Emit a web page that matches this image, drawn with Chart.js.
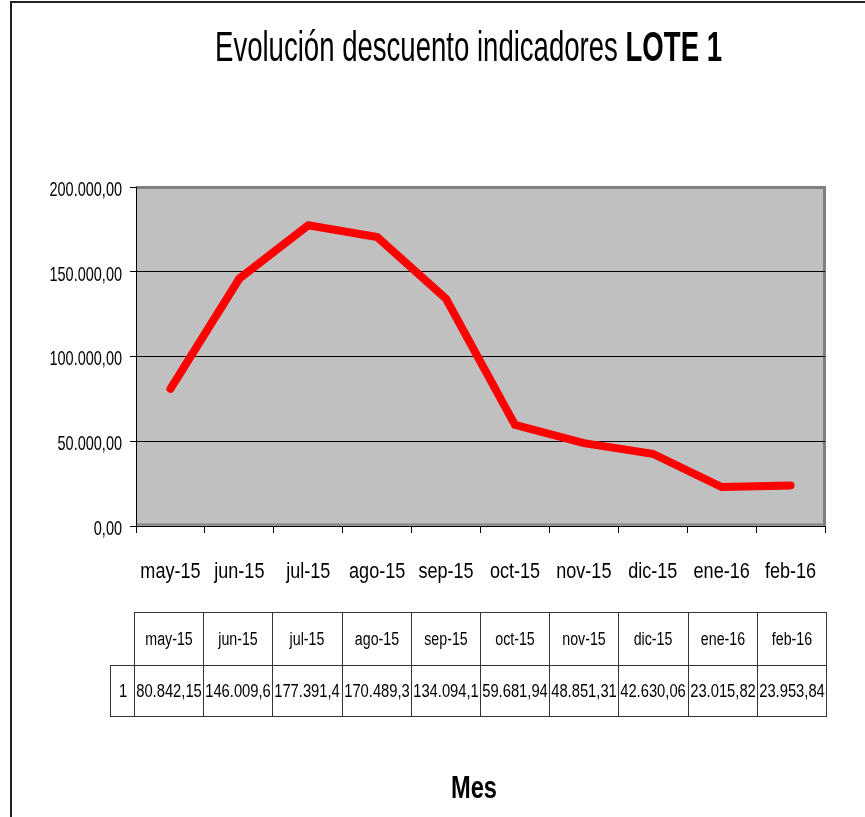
<!DOCTYPE html>
<html><head><meta charset="utf-8">
<script src="https://cdn.jsdelivr.net/npm/chart.js@4"></script>
<style>
html,body{margin:0;padding:0;background:#fff;}
body{width:865px;height:817px;position:relative;overflow:hidden;font-family:'Liberation Sans',Arial,sans-serif;color:#000;}
#c{position:absolute;left:0;top:0;}
.frameL{position:absolute;left:10px;top:1px;width:2px;height:816px;background:#222;}
.frameT{position:absolute;left:10px;top:1px;width:855px;height:2px;background:#222;}
.fit{position:absolute;white-space:nowrap;transform-origin:0 0;line-height:1;}
#title{left:215px;top:26px;font-size:42px;}
#xt{font-size:32px;font-weight:bold;top:771px;}
table{position:absolute;left:110px;top:612px;border-collapse:collapse;table-layout:fixed;}
td{border:1px solid #333;padding:0;overflow:hidden;white-space:nowrap;position:relative;}
td.blank{border:none;}
td span{position:absolute;left:50%;top:50%;line-height:1;transform:translate(-50%,-50%) scaleX(0.79);}
tr.h td span{font-size:18px;}
tr.d td span{font-size:18px;transform:translate(-50%,-50%) scaleX(0.82);}
</style></head>
<body>
<div class="frameL"></div><div class="frameT"></div>
<canvas id="c" width="865" height="817"></canvas>
<div id="title" class="fit">Evolución descuento indicadores <b>LOTE 1</b></div>
<div id="xt" class="fit">Mes</div>
<table id="tbl"></table>
<script>
const FONT = "'Liberation Sans',Arial,sans-serif";
const months = ["may-15","jun-15","jul-15","ago-15","sep-15","oct-15","nov-15","dic-15","ene-16","feb-16"];
const values = [80842.15,146009.6,177391.4,170489.3,134094.1,59681.94,48851.31,42630.06,23015.82,23953.84];
const seriesName = "1";
const yTicks = [0,50000,100000,150000,200000];

function fmt(v){
  const s = Number(v).toFixed(2);
  let [i,d] = s.split('.');
  i = i.replace(/\B(?=(\d{3})+(?!\d))/g,'.');
  return i + ',' + d;
}

// data table
const tbl = document.getElementById('tbl');
let html = '<colgroup><col style="width:24px">' + months.map(()=>'<col style="width:69.2px">').join('') + '</colgroup>';
html += '<tr class="h" style="height:53px"><td class="blank"></td>' + months.map(m=>'<td><span>'+m+'</span></td>').join('') + '</tr>';
html += '<tr class="d" style="height:51px"><td><span>'+seriesName+'</span></td>' + values.map(v=>'<td><span>'+fmt(v).slice(0,9)+'</span></td>').join('') + '</tr>';
tbl.innerHTML = html;
tbl.style.width = (24 + 69.2*months.length) + 'px';

function fit(id, target, cx){
  const el = document.getElementById(id);
  const w = el.getBoundingClientRect().width;
  const s = target / w;
  if (cx !== undefined) el.style.left = (cx - target/2) + 'px';
  el.style.transform = 'scaleX(' + s + ')';
}
fit('title', 507);
fit('xt', 46, 474);

const plotBg = {
  id:'plotBg',
  beforeDraw(chart){
    const {ctx, chartArea:a} = chart;
    ctx.save();
    ctx.fillStyle = '#c0c0c0';
    ctx.fillRect(a.left, a.top, a.right-a.left, a.bottom-a.top);
    ctx.strokeStyle = '#808080';
    ctx.lineWidth = 3;
    ctx.beginPath();
    ctx.moveTo(a.left, a.top+0.5);
    ctx.lineTo(a.right-0.5, a.top+0.5);
    ctx.lineTo(a.right-0.5, a.bottom);
    ctx.stroke();
    ctx.lineWidth = 2;
    ctx.beginPath();
    ctx.moveTo(a.left, a.bottom-1.5);
    ctx.lineTo(a.right, a.bottom-1.5);
    ctx.stroke();
    ctx.restore();
  }
};

// condensed tick labels drawn at the library's own tick positions
const narrowTicks = {
  id:'narrowTicks',
  afterDraw(chart){
    const ctx = chart.ctx;
    const xs = chart.scales.x, ys = chart.scales.y;
    ctx.save();
    ctx.fillStyle = '#000';
    const sx = 0.82;
    ctx.font = '22px ' + FONT;
    ctx.textAlign = 'center';
    ctx.textBaseline = 'alphabetic';
    xs.ticks.forEach((t,i)=>{
      const lbl = xs.getLabelForValue(t.value);
      const px = xs.getPixelForTick(i);
      ctx.save(); ctx.scale(sx,1); ctx.fillText(lbl, px/sx, 578); ctx.restore();
    });
    const sy = 0.69;
    ctx.font = '21px ' + FONT;
    ctx.textAlign = 'right';
    ctx.textBaseline = 'middle';
    ys.ticks.forEach((t)=>{
      const py = ys.getPixelForValue(t.value);
      ctx.save(); ctx.scale(sy,1); ctx.fillText(fmt(t.value), 122/sy, py+3); ctx.restore();
    });
    ctx.restore();
  }
};

new Chart(document.getElementById('c'), {
  type:'line',
  data:{labels:months, datasets:[{label:seriesName, data:values, borderColor:'#ff0000', borderWidth:8, pointRadius:0, tension:0, borderCapStyle:'round', borderJoinStyle:'miter', fill:false}]},
  options:{
    responsive:false, animation:false,
    layout:{padding:{left:0, top:187, right:40, bottom:231}},
    plugins:{legend:{display:false}, tooltip:{enabled:false}, title:{display:false}},
    scales:{
      x:{
        type:'category', offset:true,
        grid:{display:true, drawOnChartArea:false, drawTicks:true, tickLength:7, offset:true, color:'#000', tickColor:'#000', lineWidth:1},
        border:{display:true, color:'#000', width:1},
        ticks:{display:false, autoSkip:false, maxRotation:0, minRotation:0},
        afterFit(s){ s.height = 60; }
      },
      y:{
        min:0, max:200000,
        afterBuildTicks(s){ s.ticks = yTicks.map(v=>({value:v})); },
        grid:{color:(c)=> (c.tick && c.tick.value===200000) ? 'rgba(0,0,0,0)' : '#000', tickColor:'#000', drawTicks:true, tickLength:6, lineWidth:1},
        border:{display:true, color:'#000', width:1},
        ticks:{display:false},
        afterFit(s){ s.width = 136; }
      }
    }
  },
  plugins:[plotBg, narrowTicks]
});
</script>
</body></html>
